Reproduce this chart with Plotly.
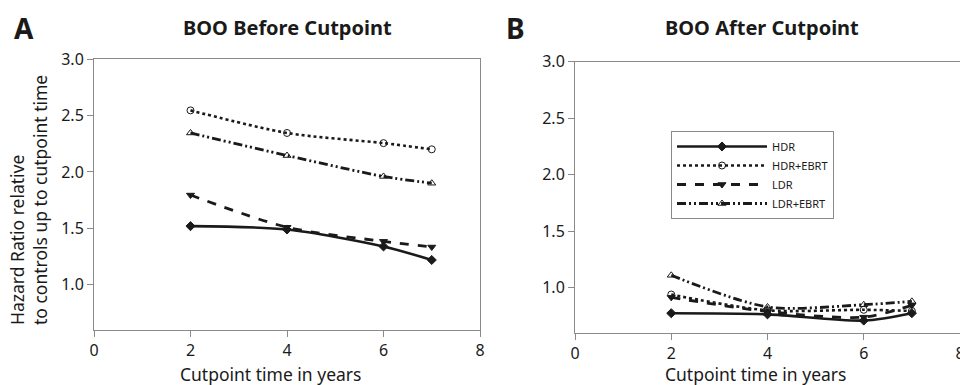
import plotly.graph_objects as go

years = [2, 4, 6, 7]
series_names = ["HDR", "HDR+EBRT", "LDR", "LDR+EBRT"]

# Panel A: BOO Before Cutpoint
hdr_a = [1.52, 1.49, 1.34, 1.22]
hdr_ebrt_a = [2.545, 2.345, 2.255, 2.20]
ldr_a = [1.795, 1.51, 1.385, 1.335]
ldr_ebrt_a = [2.345, 2.145, 1.96, 1.90]

# Panel B: BOO After Cutpoint
hdr_b = [0.775, 0.765, 0.71, 0.775]
hdr_ebrt_b = [0.94, 0.80, 0.805, 0.795]
ldr_b = [0.915, 0.79, 0.74, 0.845]
ldr_ebrt_b = [1.11, 0.83, 0.85, 0.88]

x_ticks = [0, 2, 4, 6, 8]
y_ticks = [1.0, 1.5, 2.0, 2.5, 3.0]

FONT = "Noto Sans"
INK = "#1a1a1a"
GREY = "#8a8a8a"

styles = [
    dict(dash="solid", symbol="diamond", width=2.6),
    dict(dash="dot", symbol="circle-open", width=2.6),
    dict(dash="dash", symbol="triangle-down", width=2.8),
    dict(dash="9px,3px,2px,3px,2px,3px", symbol="triangle-up-open", width=2.8),
]

fig = go.Figure()
panels = [
    ("x", "y", [hdr_a, hdr_ebrt_a, ldr_a, ldr_ebrt_a], False),
    ("x2", "y2", [hdr_b, hdr_ebrt_b, ldr_b, ldr_ebrt_b], True),
]
for xa, ya, data, show in panels:
    for name, vals, st in zip(series_names, data, styles):
        fig.add_trace(go.Scatter(
            x=years, y=vals, name=name, xaxis=xa, yaxis=ya,
            mode="lines+markers", showlegend=show,
            line=dict(color=INK, width=st["width"], dash=st["dash"], shape="spline", smoothing=0.8),
            marker=dict(symbol=st["symbol"], size=7, color=INK,
                        line=dict(color=INK, width=1)),
        ))

axis_common = dict(
    showgrid=False, zeroline=False, showline=True, linecolor=GREY, linewidth=1,
    mirror=True, ticks="outside", ticklen=6, tickcolor=GREY, automargin=False,
    tickfont=dict(family=FONT, size=16, color=INK),
)

fig.update_layout(
    template="none",
    width=960, height=385,
    margin=dict(l=0, r=0, t=0, b=0, pad=0),
    paper_bgcolor="white", plot_bgcolor="white",
    xaxis=dict(domain=[94/960, 480/960], range=[0, 8], tickvals=x_ticks, anchor="y", **axis_common),
    yaxis=dict(domain=[1-330/385, 1-59/385], range=[0.6, 3.0], tickvals=y_ticks,
               tickformat=".1f", anchor="x", **axis_common),
    xaxis2=dict(domain=[575/960, 1.0], range=[0, 8], tickvals=x_ticks, anchor="y2",
                ticklabeloverflow="allow", **axis_common),
    yaxis2=dict(domain=[1-333/385, 1-61.5/385], range=[0.6, 3.0], tickvals=y_ticks,
                tickformat=".1f", anchor="x2", **axis_common),
    legend=dict(x=671/960, y=1-131/385, xanchor="left", yanchor="top",
                bordercolor=GREY, borderwidth=1, bgcolor="white",
                font=dict(family=FONT, size=11, color=INK),
                itemwidth=90, tracegroupgap=0),
    showlegend=True,
)

def ann(text, x, y, size, bold=False, **kw):
    fig.add_annotation(
        text=f"<b>{text}</b>" if bold else text,
        x=x/960, y=1-y/385, xref="paper", yref="paper",
        xanchor="center", yanchor="middle",
        showarrow=False, font=dict(family=FONT, size=size, color=INK), **kw)

ann("A", 23.5, 28, 28, bold=True)
ann("B", 515, 28, 28, bold=True)
ann("BOO Before Cutpoint", 287, 27, 20, bold=True)
ann("BOO After Cutpoint", 762, 27, 20, bold=True)
ann("Cutpoint time in years", 270, 374, 17.5)
ann("Cutpoint time in years", 755, 374, 17.5)
ann("Hazard Ratio relative<br>to controls up to cutpoint time", 29, 200, 17.5,
    textangle=-90, align="left")

fig.write_html("out.html", config={"displayModeBar": False},
               post_script="document.body.style.margin='0';document.body.style.padding='0';")
